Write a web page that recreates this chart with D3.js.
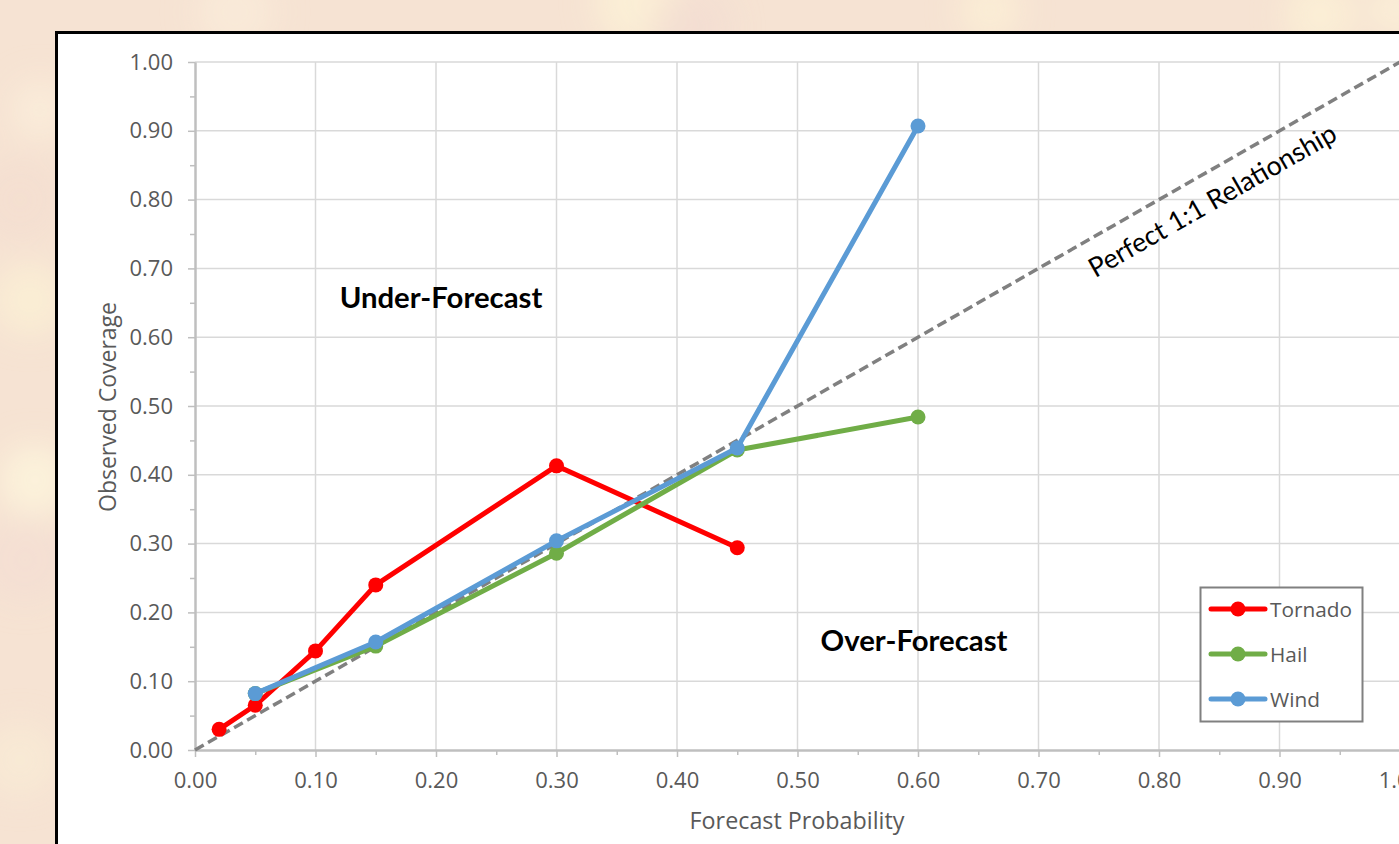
<!DOCTYPE html>
<html>
<head>
<meta charset="utf-8">
<script src="https://cdn.jsdelivr.net/npm/d3@7"></script>
<style>
  html, body { margin: 0; padding: 0; overflow: hidden; background: #f6e3d3; }
  svg { display: block; }
</style>
</head>
<body>
<svg id="chart" width="1399" height="844"></svg>
<script>
// Forecast probability bins and observed coverage per hazard
const tornadoX = [0.02, 0.05, 0.10, 0.15, 0.30, 0.45];
const tornadoY = [0.030, 0.065, 0.144, 0.240, 0.413, 0.294];
const hailX = [0.05, 0.15, 0.30, 0.45, 0.60];
const hailY = [0.082, 0.151, 0.286, 0.436, 0.484];
const windX = [0.05, 0.15, 0.30, 0.45, 0.60];
const windY = [0.082, 0.157, 0.304, 0.439, 0.907];

const seriesNames = ["Tornado", "Hail", "Wind"];
const seriesColors = ["#ff0000", "#70ad47", "#5b9bd5"];

const xTicks = [0, 0.1, 0.2, 0.3, 0.4, 0.5, 0.6, 0.7, 0.8, 0.9, 1.0];
const yTicks = [0, 0.1, 0.2, 0.3, 0.4, 0.5, 0.6, 0.7, 0.8, 0.9, 1.0];
const minorTicks = [0.05, 0.15, 0.25, 0.35, 0.45, 0.55, 0.65, 0.75, 0.85, 0.95];
const identityLine = [0, 1];

const series = [
  { name: seriesNames[0], color: seriesColors[0], pts: tornadoX.map((x, i) => [x, tornadoY[i]]) },
  { name: seriesNames[1], color: seriesColors[1], pts: hailX.map((x, i) => [x, hailY[i]]) },
  { name: seriesNames[2], color: seriesColors[2], pts: windX.map((x, i) => [x, windY[i]]) }
];

const svg = d3.select("#chart");
const fmt = d3.format(".2f");
const tickFont = "'Open Sans', 'Noto Sans', sans-serif";
const boldFont = "Lato, 'Open Sans', sans-serif";

// ---- warm soft-focus backdrop ----
const defs = svg.append("defs");
defs.append("filter").attr("id", "soft").attr("x", "-50%").attr("y", "-50%").attr("width", "200%").attr("height", "200%")
  .append("feGaussianBlur").attr("stdDeviation", 16);
svg.append("rect").attr("width", 1399).attr("height", 844).attr("fill", "#f6e3d3");
const glow = svg.append("g").attr("filter", "url(#soft)");
const spots = [
  [40, 110, 30, "#fbeedb", 0.8], [30, 300, 36, "#fbf0d4", 0.8], [35, 480, 36, "#fdf4dc", 0.85],
  [20, 760, 36, "#faedd6", 0.7], [235, 12, 40, "#fbeedc", 0.6], [640, 2, 45, "#fdf1d6", 0.8],
  [690, 28, 40, "#f2dcd2", 0.7], [990, 10, 30, "#fcf0d6", 0.8], [1320, 15, 35, "#fcf1d6", 0.8],
  [1395, 10, 25, "#fcf2d8", 0.8], [20, 200, 40, "#f3dcd0", 0.5], [25, 560, 40, "#f3dcd4", 0.5]
];
glow.selectAll("circle").data(spots).join("circle")
  .attr("cx", d => d[0]).attr("cy", d => d[1]).attr("r", d => d[2])
  .attr("fill", d => d[3]).attr("opacity", d => d[4]);

// ---- chart panel ----
svg.append("rect").attr("x", 56.5).attr("y", 32.5).attr("width", 1420).attr("height", 900)
  .attr("fill", "#ffffff").attr("stroke", "#000000").attr("stroke-width", 3);

const x = d3.scaleLinear().domain([0, 1]).range([195, 1400]);
const y = d3.scaleLinear().domain([0, 1]).range([750, 62]);

// gridlines
const grid = svg.append("g");
grid.selectAll("line.v").data(xTicks.slice(1)).join("line").attr("class", "v")
  .attr("x1", d => x(d)).attr("x2", d => x(d)).attr("y1", y(0)).attr("y2", y(1))
  .attr("stroke", "#d9d9d9").attr("stroke-width", 1.5);
grid.selectAll("line.h").data(yTicks.slice(1)).join("line").attr("class", "h")
  .attr("x1", x(0)).attr("x2", x(1)).attr("y1", d => y(d)).attr("y2", d => y(d))
  .attr("stroke", "#d9d9d9").attr("stroke-width", 1.5);

// axes with major and minor ticks
function styleAxis(g) {
  g.selectAll("path.domain").attr("stroke", "#bfbfbf").attr("stroke-width", 2);
  g.selectAll(".tick line").attr("stroke", "#bfbfbf").attr("stroke-width", 1.5);
  g.selectAll("text").attr("fill", "#595959").attr("font-family", tickFont).attr("font-size", 22);
}
const xAxisMinor = svg.append("g").attr("transform", `translate(0,${y(0)})`)
  .call(d3.axisBottom(x).tickValues(minorTicks).tickSize(5).tickFormat("").tickSizeOuter(0));
styleAxis(xAxisMinor);
const xAxis = svg.append("g").attr("transform", `translate(0,${y(0)})`)
  .call(d3.axisBottom(x).tickValues(xTicks).tickSize(7).tickPadding(15).tickFormat(fmt).tickSizeOuter(0));
styleAxis(xAxis);
const yAxisMinor = svg.append("g").attr("transform", `translate(${x(0)},0)`)
  .call(d3.axisLeft(y).tickValues(minorTicks).tickSize(5).tickFormat("").tickSizeOuter(0));
styleAxis(yAxisMinor);
const yAxis = svg.append("g").attr("transform", `translate(${x(0)},0)`)
  .call(d3.axisLeft(y).tickValues(yTicks).tickSize(7).tickPadding(15).tickFormat(fmt).tickSizeOuter(0));
styleAxis(yAxis);

// axis titles
svg.append("text").attr("x", 797).attr("y", 829).attr("text-anchor", "middle")
  .attr("font-family", tickFont).attr("font-size", 23.3).attr("fill", "#595959")
  .text("Forecast Probability");
svg.append("text").attr("transform", `translate(116,407) rotate(-90)`).attr("text-anchor", "middle")
  .attr("font-family", tickFont).attr("font-size", 23).attr("fill", "#595959")
  .text("Observed Coverage");

// perfect reliability diagonal
const line = d3.line().x(d => x(d[0])).y(d => y(d[1]));
svg.append("path").datum(identityLine.map(v => [v, v])).attr("d", line)
  .attr("fill", "none").attr("stroke", "#808080").attr("stroke-width", 3.5)
  .attr("stroke-dasharray", "10,5");

// series lines and markers
series.forEach(s => {
  const g = svg.append("g");
  g.append("path").datum(s.pts).attr("d", line)
    .attr("fill", "none").attr("stroke", s.color).attr("stroke-width", 5)
    .attr("stroke-linejoin", "round").attr("stroke-linecap", "round");
  g.selectAll("circle").data(s.pts).join("circle")
    .attr("cx", d => x(d[0])).attr("cy", d => y(d[1])).attr("r", 7.5)
    .attr("fill", s.color);
});

// region annotations
svg.append("text").attr("x", 441).attr("y", 296).attr("text-anchor", "middle").attr("dominant-baseline", "central")
  .attr("font-family", boldFont).attr("font-weight", "bold").attr("font-size", 29.3).attr("fill", "#000")
  .text("Under-Forecast");
svg.append("text").attr("x", 914).attr("y", 639).attr("text-anchor", "middle").attr("dominant-baseline", "central")
  .attr("font-family", boldFont).attr("font-weight", "bold").attr("font-size", 29.3).attr("fill", "#000")
  .text("Over-Forecast");
const ang = Math.atan2(y(0) - y(1), x(1) - x(0)) * 180 / Math.PI;
svg.append("text").attr("transform", `translate(1212,200) rotate(${-ang})`)
  .attr("text-anchor", "middle").attr("dominant-baseline", "central")
  .attr("font-family", boldFont).attr("font-size", 26.8).attr("fill", "#000")
  .text("Perfect 1:1 Relationship");

// legend
const lg = svg.append("g");
lg.append("rect").attr("x", 1200.5).attr("y", 587.5).attr("width", 162).attr("height", 134)
  .attr("fill", "#ffffff").attr("stroke", "#808080").attr("stroke-width", 2);
const legendY = d3.scalePoint().domain(seriesNames).range([609, 699]);
series.forEach(s => {
  const ly = legendY(s.name);
  lg.append("line").attr("x1", 1211).attr("x2", 1265).attr("y1", ly).attr("y2", ly)
    .attr("stroke", s.color).attr("stroke-width", 5).attr("stroke-linecap", "round");
  lg.append("circle").attr("cx", 1238).attr("cy", ly).attr("r", 7.5).attr("fill", s.color);
  lg.append("text").attr("x", 1270).attr("y", ly).attr("dominant-baseline", "central")
    .attr("font-family", tickFont).attr("font-size", 20.8).attr("fill", "#595959").text(s.name);
});
</script>
</body>
</html>
